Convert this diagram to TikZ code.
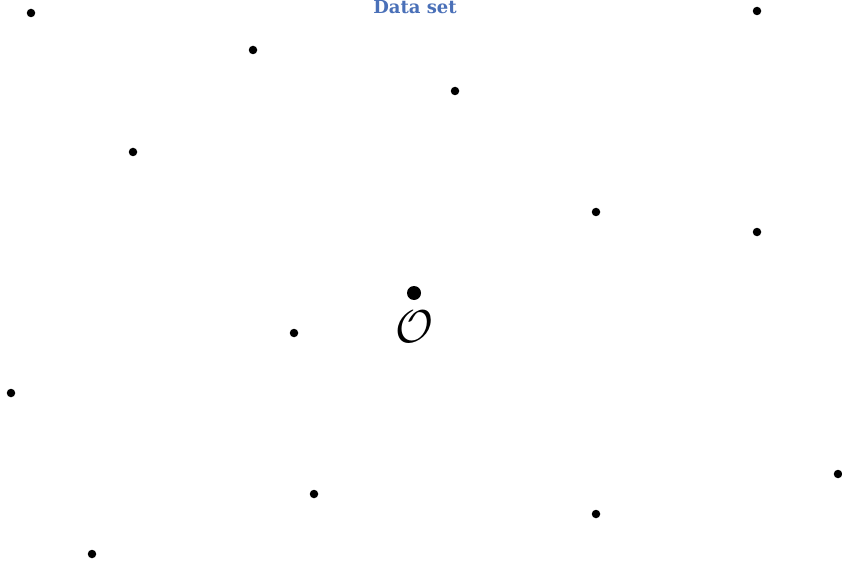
\documentclass[tikz,border=0pt]{standalone}
\usepackage{fontspec}
\usepackage{graphicx}
\usepackage{tikz}
\usetikzlibrary{positioning}
\newfontfamily\titlefont{DejaVu Serif}
\definecolor{titleblue}{RGB}{74,112,184}

\begin{document}
\begin{tikzpicture}[
			x=1pt, y=-1pt,
			datapt/.style={circle, fill=black, inner sep=0pt, minimum size=8.5pt},
			centerpt/.style={circle, fill=black, inner sep=0pt, minimum size=14pt},
			title/.style={font=\titlefont\bfseries\fontsize{18}{20}\selectfont, text=titleblue, anchor=base},
			biglabel/.style={font=\Huge, inner sep=0pt}
			]
			\useasboundingbox (0,0) rectangle (842,561);
			
			% Titulo
			\node (titulo) [title] at (415,14) {Data set};
			
			% Puntos del conjunto
			\node (p1) [datapt] at (31,13) {};
			\node (p2) [datapt] at (253,50) {};
			\node (p3) [datapt] at (455,91) {};
			\node (p4) [datapt] at (133,152) {};
			\node (p5) [datapt] at (757,11) {};
			\node (p6) [datapt] at (596,212) {};
			\node (p7) [datapt] at (757,232) {};
			\node (p8) [datapt] at (294,333) {};
			\node (p9) [datapt] at (11,393) {};
			\node (p10) [datapt] at (838,474) {};
			\node (p11) [datapt] at (314,494) {};
			\node (p12) [datapt] at (596,514) {};
			\node (p13) [datapt] at (92,554) {};
			
			% Punto central
			\node (centro) [centerpt] at (414,293) {};
			\node (origen) [biglabel, below=11pt of centro] {\scalebox{1.85}{$\mathcal{O}$}};
			
		\end{tikzpicture}
\end{document}
